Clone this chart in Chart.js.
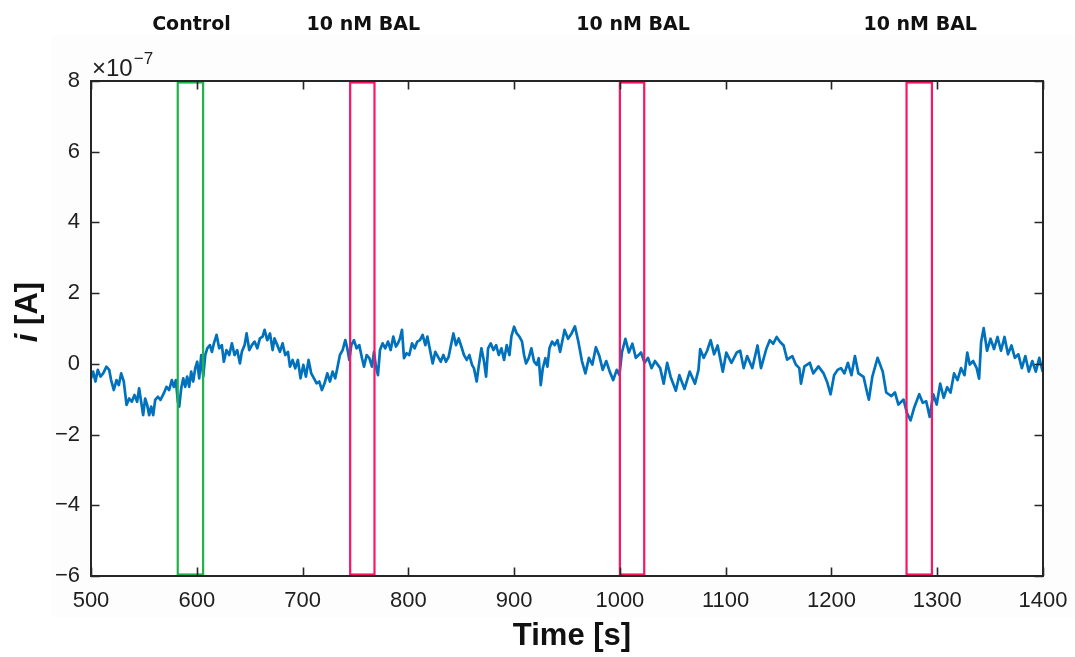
<!DOCTYPE html>
<html>
<head>
<meta charset="utf-8">
<script src="https://cdn.jsdelivr.net/npm/chart.js@4"></script>
<style>
  html, body { margin: 0; padding: 0; background: #ffffff; }
  #wrap { width: 1075px; height: 657px; }
</style>
</head>
<body>
<div id="wrap"><canvas id="chart" width="1075" height="657"></canvas></div>
<script>
// Recording time in seconds
const timeS = [
  499.5, 502.0, 504.2, 506.4, 509.0, 511.5, 514.6, 517.2, 519.0, 521.6,
  524.1, 526.3, 528.5, 531.0, 533.6, 536.1, 538.6, 541.1, 543.6, 545.5,
  547.4, 549.3, 551.2, 553.1, 555.0, 556.9, 558.8, 560.7, 563.2, 565.7,
  568.9, 571.4, 573.9, 576.4, 578.3, 580.2, 582.1, 583.4, 585.3, 587.2,
  589.1, 590.9, 592.8, 594.7, 596.6, 598.5, 600.4, 602.3, 604.2, 606.1,
  608.0, 609.9, 612.4, 614.3, 616.2, 618.7, 621.2, 623.7, 625.6, 628.1,
  630.7, 633.2, 635.7, 638.2, 640.8, 642.6, 645.2, 647.1, 649.6, 652.1,
  654.6, 657.2, 659.7, 662.2, 664.1, 666.6, 669.2, 671.7, 673.5, 676.1,
  678.6, 681.1, 683.6, 686.2, 688.1, 690.6, 693.1, 695.6, 698.1, 700.7,
  703.2, 705.7, 708.2, 710.8, 713.3, 715.8, 718.3, 720.8, 723.4, 725.9,
  728.4, 730.9, 732.8, 735.3, 737.9, 740.4, 742.3, 744.2, 746.1, 748.6,
  751.1, 753.6, 756.2, 758.1, 760.6, 763.1, 765.6, 767.5, 769.4, 771.3,
  773.2, 775.7, 778.2, 780.8, 783.3, 785.8, 788.3, 790.2, 792.1, 794.0,
  795.9, 798.4, 800.9, 803.5, 806.0, 808.5, 811.0, 813.5, 816.1, 818.0,
  820.5, 823.0, 825.5, 828.1, 830.6, 833.1, 835.6, 838.1, 840.7, 842.6,
  845.1, 847.6, 850.1, 852.6, 855.2, 857.7, 860.2, 862.1, 864.6, 866.5,
  869.1, 871.6, 873.5, 875.4, 877.9, 880.4, 883.0, 885.5, 888.0, 890.5,
  893.0, 895.6, 897.4, 900.0, 902.5, 905.0, 907.5, 909.4, 911.3, 913.8,
  916.3, 918.9, 921.4, 923.3, 925.2, 927.1, 929.6, 931.5, 933.4, 935.9,
  938.4, 941.0, 943.5, 947.7, 951.0, 954.3, 957.5, 960.8, 964.1, 967.4,
  970.7, 974.0, 977.3, 980.6, 983.8, 987.1, 990.4, 993.7, 997.0, 999.6,
  1001.9, 1005.2, 1008.5, 1011.8, 1015.1, 1020.0, 1023.3, 1026.6, 1029.9, 1033.2,
  1038.1, 1041.4, 1044.7, 1048.0, 1052.9, 1056.2, 1061.1, 1066.0, 1071.0, 1074.3,
  1075.9, 1079.2, 1082.5, 1085.8, 1089.1, 1092.4, 1097.3, 1100.6, 1105.5, 1110.4,
  1113.7, 1117.0, 1120.3, 1125.2, 1130.1, 1133.4, 1138.4, 1141.7, 1145.0, 1148.2,
  1151.5, 1154.8, 1158.1, 1163.0, 1166.3, 1169.6, 1171.2, 1174.5, 1179.5, 1182.8,
  1187.7, 1192.6, 1195.9, 1199.2, 1202.5, 1205.8, 1209.0, 1212.3, 1215.6, 1218.9,
  1222.2, 1225.5, 1230.4, 1233.7, 1235.4, 1238.6, 1243.6, 1248.5, 1251.8, 1256.7,
  1260.0, 1263.3, 1268.2, 1271.5, 1274.8, 1278.1, 1283.0, 1286.3, 1289.6, 1292.9,
  1296.2, 1299.5, 1302.8, 1306.1, 1309.4, 1312.6, 1315.9, 1319.2, 1322.5, 1325.8,
  1328.4, 1330.7, 1334.0, 1337.3, 1339.6, 1341.5, 1343.9, 1347.1, 1350.4, 1353.7,
  1357.0, 1360.3, 1363.6, 1366.9, 1370.2, 1373.4, 1376.7, 1380.0, 1383.3, 1386.6,
  1389.9, 1393.2, 1396.5, 1399.7
];

// Measured current, in units of 1e-7 A
const currentE7 = [
  -0.46, -0.22, -0.50, -0.17, -0.36, -0.27, -0.08, -0.17, -0.46, -0.74,
  -0.46, -0.60, -0.27, -0.50, -1.16, -0.98, -1.07, -0.88, -1.07, -0.69,
  -1.07, -1.45, -0.98, -1.16, -1.45, -1.21, -1.45, -1.02, -0.93, -1.02,
  -0.83, -0.65, -0.74, -0.46, -0.65, -0.46, -1.07, -1.21, -0.69, -0.41,
  -0.65, -0.36, -0.65, -0.22, -0.50, -0.13, 0.06, -0.41, 0.25, -0.36,
  0.25, 0.44, 0.53, 0.34, 0.58, 0.82, 0.44, 0.53, 0.06, 0.39,
  0.25, 0.58, 0.25, 0.39, 0.01, 0.34, 0.53, 0.86, 0.39, 0.53,
  0.63, 0.44, 0.72, 0.77, 0.96, 0.67, 0.86, 0.39, 0.72, 0.53,
  0.34, 0.58, 0.25, 0.34, -0.08, 0.11, -0.13, 0.11, -0.41, -0.03,
  -0.36, 0.11, -0.27, -0.41, -0.55, -0.50, -0.74, -0.55, -0.27, -0.50,
  -0.22, -0.41, -0.13, 0.25, 0.39, 0.67, 0.44, 0.11, 0.53, 0.67,
  0.44, 0.53, 0.16, -0.08, 0.25, 0.16, -0.08, 0.34, -0.08, -0.32,
  0.39, 0.58, 0.44, 0.63, 0.39, 0.77, 0.49, 0.58, 0.72, 0.96,
  0.16, 0.30, 0.25, 0.58, 0.44, 0.63, 0.67, 0.82, 0.53, 0.77,
  0.39, 0.01, 0.34, 0.20, 0.06, 0.25, 0.06, 0.20, 0.58, 0.86,
  0.53, 0.72, 0.49, 0.25, 0.11, 0.25, -0.03, -0.13, -0.50, -0.08,
  0.44, 0.06, -0.36, 0.44, 0.58, 0.39, 0.53, 0.25, 0.44, 0.11,
  0.53, 0.25, 0.77, 1.05, 0.86, 0.77, 0.63, 0.25, 0.01, 0.16,
  0.44, 0.06, -0.03, 0.16, -0.60, -0.13, 0.16, -0.08, 0.44, 0.63,
  0.53, 0.67, 0.34, 0.96, 0.71, 0.86, 1.06, 0.62, 0.08, -0.27,
  0.17, -0.02, 0.47, 0.22, -0.17, 0.08, -0.22, -0.46, -0.17, -0.32,
  0.32, 0.71, 0.32, 0.57, 0.17, 0.32, 0.03, 0.17, -0.12, 0.08,
  -0.12, -0.56, 0.03, -0.37, -0.76, -0.32, -0.71, -0.22, -0.56, -0.17,
  0.42, 0.17, 0.37, 0.67, 0.27, 0.52, -0.22, 0.32, 0.03, 0.32,
  0.37, -0.12, 0.22, -0.12, 0.52, -0.12, 0.42, 0.67, 0.57, 0.76,
  0.62, 0.52, 0.12, 0.22, -0.02, -0.12, -0.56, -0.07, 0.03, -0.27,
  -0.07, -0.27, -0.51, -0.86, -0.32, -0.17, -0.12, -0.27, 0.03, -0.32,
  0.22, -0.27, -0.37, -0.81, -1.01, -0.37, 0.17, -0.22, -0.81, -0.91,
  -0.81, -1.15, -1.01, -1.40, -1.60, -1.25, -0.86, -1.10, -1.06, -1.50,
  -0.86, -1.15, -0.56, -0.96, -0.66, -0.81, -0.27, -0.46, -0.12, -0.32,
  0.32, -0.02, 0.08, -0.12, -0.42, 0.62, 1.01, 0.37, 0.71, 0.42,
  0.76, 0.37, 0.76, 0.27, 0.52, 0.17, 0.27, -0.12, 0.22, -0.22,
  0.08, -0.22, 0.17, -0.22
];

// Axis ticks
const xTickValues = [500, 600, 700, 800, 900, 1000, 1100, 1200, 1300, 1400];
const yTickValues = [-6, -4, -2, 0, 2, 4, 6, 8];

// Analysis windows (seconds) and their headings
const windowLabels = ['Control', '10 nM BAL', '10 nM BAL', '10 nM BAL'];
const windowStartS = [582, 745, 1000, 1271];
const windowEndS   = [606, 768, 1023, 1295];
const windowKind   = ['control', 'treated', 'treated', 'treated'];

const kindColor = { control: '#1fb24a', treated: '#ff1464' };
const axisColor = '#262626';
const tickFont = '22px "Liberation Sans", Arial, sans-serif';

const points = timeS.map((t, i) => ({ x: t, y: currentE7[i] }));

function fmtTick(v) {
  return v < 0 ? '\u2212' + Math.abs(v) : String(v);
}

const framePlugin = {
  id: 'frame',
  beforeDraw(chart) {
    const ctx = chart.ctx;
    ctx.save();
    ctx.fillStyle = '#ffffff';
    ctx.fillRect(0, 0, chart.width, chart.height);
    ctx.fillStyle = '#fdfdfd';
    ctx.fillRect(52, 35, chart.width - 52, 582);
    ctx.fillStyle = '#ffffff';
    const a = chart.chartArea;
    ctx.fillRect(a.left, a.top, a.right - a.left, a.bottom - a.top);
    ctx.restore();
  },
  afterDatasetsDraw(chart) {
    const ctx = chart.ctx;
    const a = chart.chartArea;
    const xs = chart.scales.x, ys = chart.scales.y;
    ctx.save();

    // analysis windows
    ctx.lineWidth = 2.2;
    windowStartS.forEach((s, i) => {
      const x0 = xs.getPixelForValue(s);
      const x1 = xs.getPixelForValue(windowEndS[i]);
      ctx.strokeStyle = kindColor[windowKind[i]];
      ctx.strokeRect(x0, a.top + 1.5, x1 - x0, a.bottom - a.top - 3);
    });

    // axes box
    ctx.strokeStyle = axisColor;
    ctx.lineWidth = 2;
    ctx.strokeRect(a.left, a.top, a.right - a.left, a.bottom - a.top);

    // inward ticks on all four sides
    const tl = 8.5;
    ctx.lineWidth = 1.6;
    ctx.beginPath();
    xTickValues.forEach(v => {
      const x = Math.round(xs.getPixelForValue(v)) + 0.5;
      ctx.moveTo(x, a.bottom); ctx.lineTo(x, a.bottom - tl);
      ctx.moveTo(x, a.top); ctx.lineTo(x, a.top + tl);
    });
    yTickValues.forEach(v => {
      const y = Math.round(ys.getPixelForValue(v)) + 0.5;
      ctx.moveTo(a.left, y); ctx.lineTo(a.left + tl, y);
      ctx.moveTo(a.right, y); ctx.lineTo(a.right - tl, y);
    });
    ctx.stroke();

    // tick labels
    ctx.fillStyle = '#1f1f1f';
    ctx.font = tickFont;
    ctx.textAlign = 'center';
    ctx.textBaseline = 'middle';
    xTickValues.forEach(v => {
      ctx.fillText(String(v), xs.getPixelForValue(v), a.bottom + 25);
    });
    ctx.textAlign = 'right';
    yTickValues.forEach(v => {
      ctx.fillText(fmtTick(v), a.left - 11, ys.getPixelForValue(v));
    });

    // exponent multiplier
    ctx.textAlign = 'left';
    ctx.textBaseline = 'alphabetic';
    ctx.font = '24px "Liberation Sans", Arial, sans-serif';
    ctx.fillText('\u00d710', a.left + 1, a.top - 5);
    const w = ctx.measureText('\u00d710').width;
    ctx.font = '17px "Liberation Sans", Arial, sans-serif';
    ctx.fillText('\u22127', a.left + 2 + w, a.top - 17);

    // window headings
    ctx.fillStyle = '#111111';
    ctx.font = 'bold 19px "DejaVu Sans", sans-serif';
    ctx.textAlign = 'center';
    ctx.textBaseline = 'middle';
    windowLabels.forEach((lbl, i) => {
      const cx = (xs.getPixelForValue(windowStartS[i]) + xs.getPixelForValue(windowEndS[i])) / 2;
      ctx.fillText(lbl, cx + 1, 25);
    });

    // axis titles
    ctx.fillStyle = '#111111';
    ctx.font = 'bold 31px "Liberation Sans", Arial, sans-serif';
    ctx.textAlign = 'center';
    ctx.textBaseline = 'middle';
    ctx.fillText('Time [s]', (a.left + a.right) / 2 + 5, 636);

    ctx.translate(28, 312);
    ctx.rotate(-Math.PI / 2);
    ctx.textAlign = 'left';
    ctx.font = 'italic bold 31px "Liberation Sans", Arial, sans-serif';
    const iw = ctx.measureText('i ').width;
    ctx.font = 'bold 31px "Liberation Sans", Arial, sans-serif';
    const rw = ctx.measureText('[A]').width;
    const start = -(iw + rw) / 2;
    ctx.font = 'italic bold 31px "Liberation Sans", Arial, sans-serif';
    ctx.fillText('i', start, 0);
    ctx.font = 'bold 31px "Liberation Sans", Arial, sans-serif';
    ctx.fillText('[A]', start + iw, 0);

    ctx.restore();
  }
};

new Chart(document.getElementById('chart'), {
  type: 'line',
  data: {
    datasets: [{
      data: points,
      borderColor: '#0072bd',
      borderWidth: 2.7,
      borderJoinStyle: 'round',
      pointRadius: 0,
      tension: 0,
      fill: false
    }]
  },
  options: {
    responsive: false,
    animation: false,
    devicePixelRatio: 1,
    layout: { padding: { left: 91, top: 81, right: 32, bottom: 81 } },
    plugins: { legend: { display: false }, tooltip: { enabled: false } },
    scales: {
      x: { type: 'linear', min: 500, max: 1400, display: false },
      y: { type: 'linear', min: -6, max: 8, display: false }
    }
  },
  plugins: [framePlugin]
});
</script>
</body>
</html>
